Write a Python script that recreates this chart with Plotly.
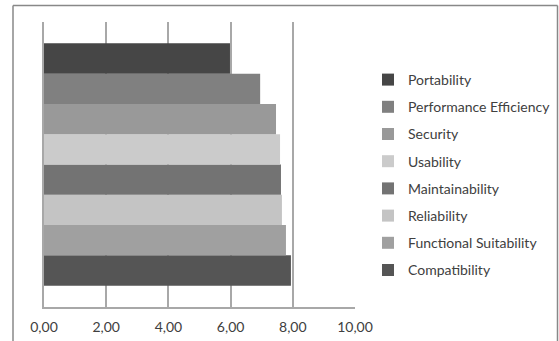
import plotly.graph_objects as go

categories = ["Compatibility", "Functional Suitability", "Reliability", "Maintainability",
              "Usability", "Security", "Performance Efficiency", "Portability"]
values = [7.94, 7.78, 7.65, 7.62, 7.59, 7.46, 6.95, 5.98]
colors = ["#555555", "#a0a0a0", "#c4c4c4", "#737373", "#cbcbcb", "#999999", "#808080", "#464646"]
group = [""]
x_ticks = [0, 2, 4, 6, 8, 10]

W, H = 559, 341
L, R, T, B = 44, 204, 22, 34
pw, ph = W - L - R, H - T - B

fig = go.Figure()
n = len(categories)
for i, (name, v, c) in enumerate(zip(categories, values, colors)):
    fig.add_trace(go.Bar(y=group, x=[v], name=name, orientation="h",
                         marker=dict(color=c, line=dict(width=0)),
                         legendgroup=name, legendrank=n - i))

def px_x(p):
    return (p - L) / pw

def px_y(p):
    return (H - B - p) / ph

frame = dict(color="#888888", width=1.5)
fig.add_shape(type="line", xref="paper", yref="paper",
              x0=px_x(13), x1=px_x(13), y0=px_y(345), y1=px_y(5.5), line=frame)
fig.add_shape(type="line", xref="paper", yref="paper",
              x0=px_x(13), x1=px_x(557.5), y0=px_y(5.5), y1=px_y(5.5), line=frame)
fig.add_shape(type="line", xref="paper", yref="paper",
              x0=px_x(557.5), x1=px_x(557.5), y0=px_y(345), y1=px_y(5.5), line=frame)

fig.update_layout(
    width=W, height=H,
    margin=dict(l=L, r=R, t=T, b=B, autoexpand=False),
    paper_bgcolor="white", plot_bgcolor="white",
    barmode="group", bargap=0.15, bargroupgap=0,
    separators=",.",
    font=dict(family="Lato, Open Sans, sans-serif", size=14, color="#404040"),
    showlegend=True,
    legend=dict(xref="container", yref="container", x=368 / W, xanchor="left",
                y=1 - 64 / H, yanchor="top", maxheight=300,
                traceorder="grouped", tracegroupgap=6,
                font=dict(size=14, color="#404040"), bgcolor="rgba(0,0,0,0)"),
    xaxis=dict(range=[0, 10], tickvals=x_ticks, tickformat=".2f", showgrid=True,
               gridcolor="#a8a8a8", gridwidth=1.5, zeroline=False, showline=True,
               linecolor="#a8a8a8", linewidth=1.5, ticks="", ticklabelstandoff=6,
               automargin=False, fixedrange=True),
    yaxis=dict(showticklabels=False, showgrid=False, zeroline=False, showline=True,
               linecolor="#a8a8a8", linewidth=1.5, ticks="", automargin=False,
               fixedrange=True),
)

fig.write_html("out.html", config={"displayModeBar": False},
               post_script="document.body.style.margin='0';document.body.style.overflow='hidden';")
